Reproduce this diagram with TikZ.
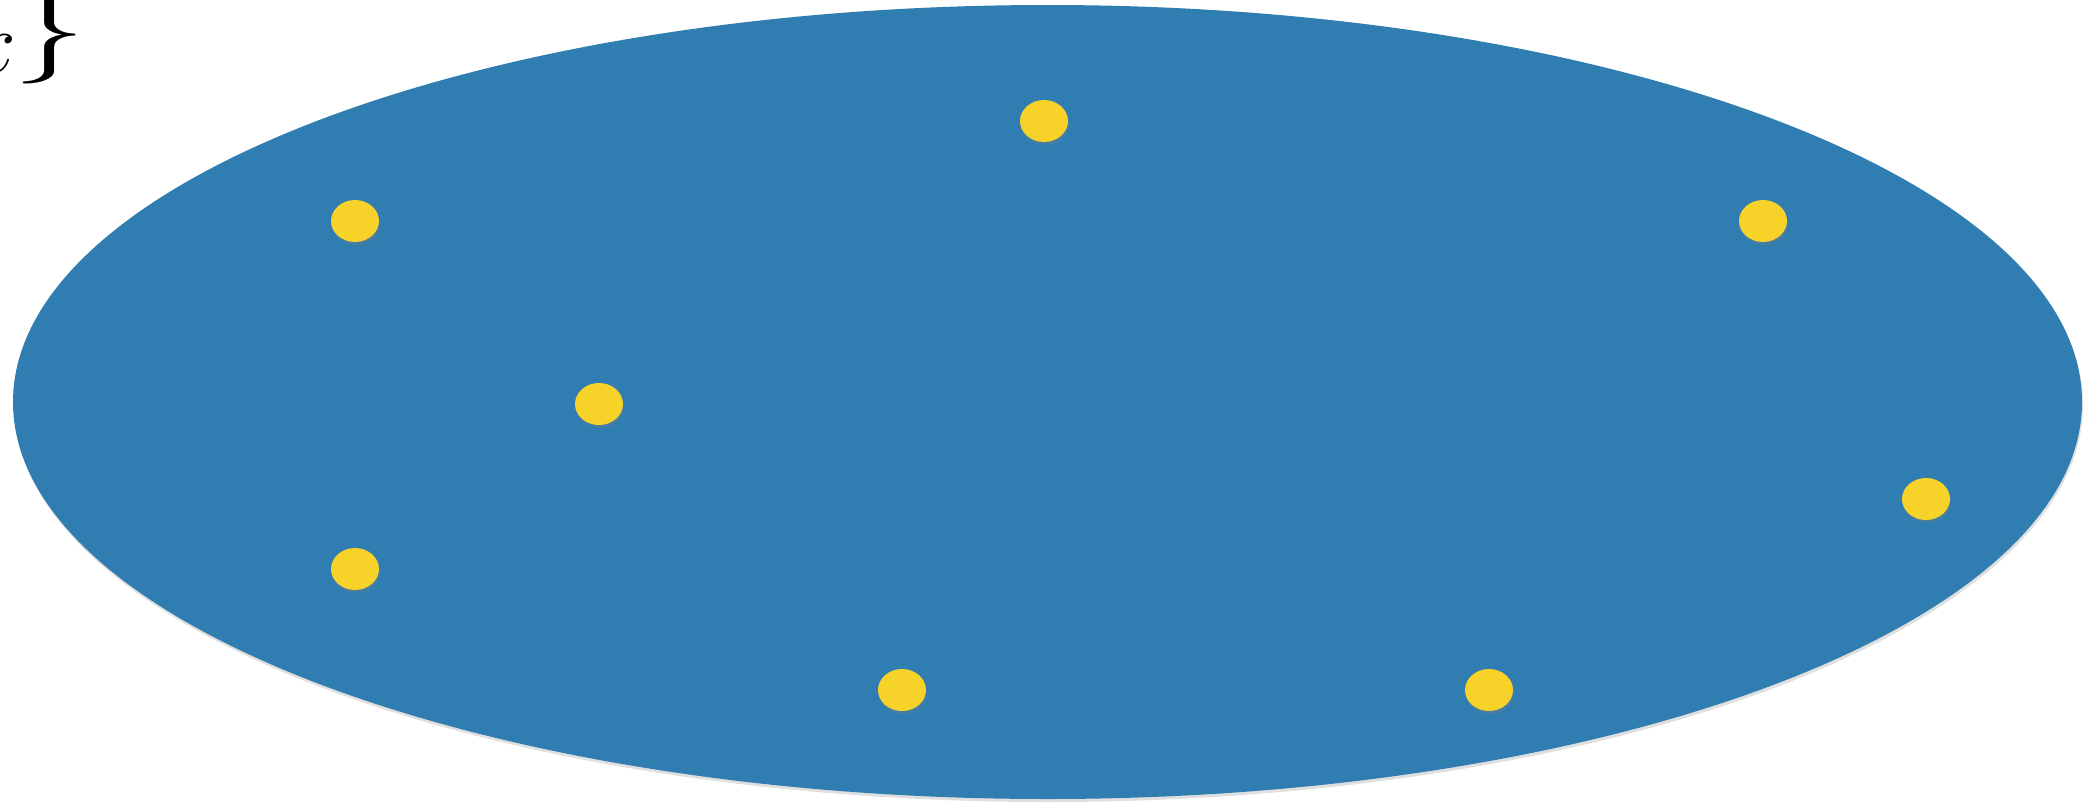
\documentclass[tikz,border=0pt]{standalone}
\usepackage{amsmath}
\usetikzlibrary{shapes.geometric,shadows}
\definecolor{felt}{HTML}{2F7DB1}
\definecolor{dot}{HTML}{F7D329}
\begin{document}
\begin{tikzpicture}[
 blob/.style={fill=felt,drop shadow={opacity=.25,shadow xshift=.01,shadow yshift=-.03}},
 pt/.style={ellipse,fill=dot,inner sep=0pt,minimum width=4.8mm,minimum height=4.2mm,
   drop shadow={opacity=.3,shadow xshift=.01,shadow yshift=-.03}},
 big/.style={inner sep=0pt,font=\fontsize{27}{31}\selectfont}]
\useasboundingbox (0,0) rectangle (20.86,8.04);
\path[blob] (10.475,4.02) ellipse [x radius=10.345,y radius=3.97];
\node[big,anchor=base east] (xvar) at (0.17,7.32) {$x$};
\node[big] (brace) at (0.50,7.69) {\scalebox{1.7}[1.12]{$\}$}};
\node[pt] (p1) at (10.44,6.83) {};
\node[pt] (p2) at (3.55,5.83) {};
\node[pt] (p3) at (17.63,5.83) {};
\node[pt] (p4) at (5.99,4.00) {};
\node[pt] (p5) at (19.26,3.05) {};
\node[pt] (p6) at (3.55,2.35) {};
\node[pt] (p7) at (9.02,1.14) {};
\node[pt] (p8) at (14.89,1.14) {};
\end{tikzpicture}
\end{document}
